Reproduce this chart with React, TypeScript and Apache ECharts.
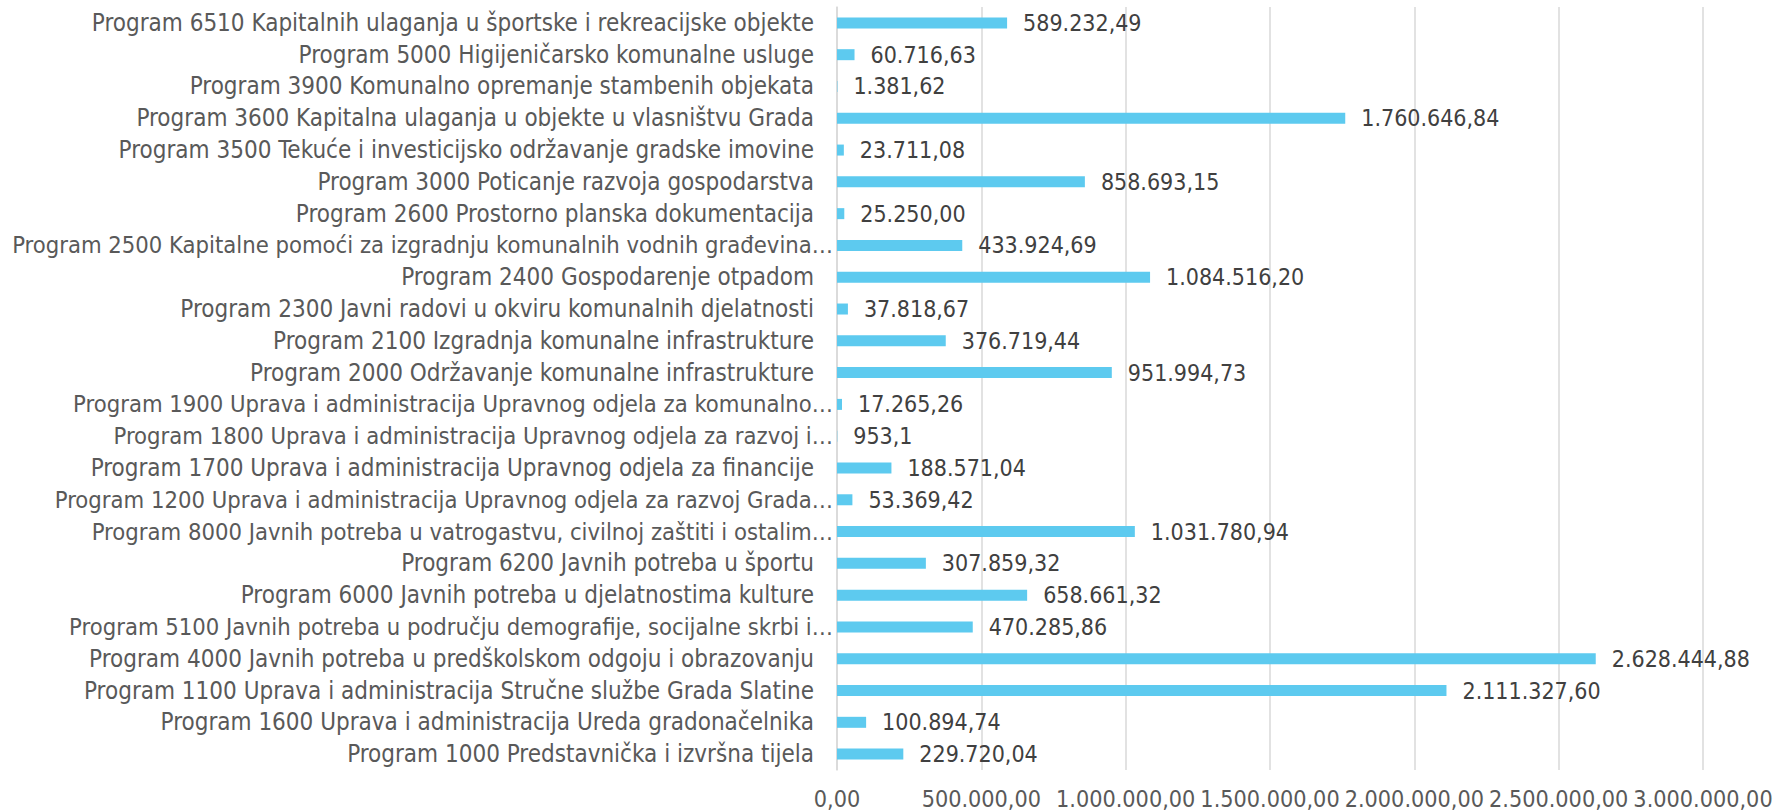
import React, { useEffect, useRef } from "react";
import * as echarts from "echarts";

const categories: string[] = [
  "Program 6510 Kapitalnih ulaganja u športske i rekreacijske objekte",
  "Program 5000 Higijeničarsko komunalne usluge",
  "Program 3900 Komunalno opremanje stambenih objekata",
  "Program 3600 Kapitalna ulaganja u objekte u vlasništvu Grada",
  "Program 3500 Tekuće i investicijsko održavanje gradske imovine",
  "Program 3000 Poticanje razvoja gospodarstva",
  "Program 2600 Prostorno planska dokumentacija",
  "Program 2500 Kapitalne pomoći za izgradnju komunalnih vodnih građevina…",
  "Program 2400 Gospodarenje otpadom",
  "Program 2300 Javni radovi u okviru komunalnih djelatnosti",
  "Program 2100 Izgradnja komunalne infrastrukture",
  "Program 2000 Održavanje komunalne infrastrukture",
  "Program 1900 Uprava i administracija Upravnog odjela za komunalno…",
  "Program 1800 Uprava i administracija Upravnog odjela za razvoj i…",
  "Program 1700 Uprava i administracija Upravnog odjela za financije",
  "Program 1200 Uprava i administracija Upravnog odjela za razvoj Grada…",
  "Program 8000 Javnih potreba u vatrogastvu, civilnoj zaštiti i ostalim…",
  "Program 6200 Javnih potreba u športu",
  "Program 6000 Javnih potreba u djelatnostima kulture",
  "Program 5100 Javnih potreba u području demografije, socijalne skrbi i…",
  "Program 4000 Javnih potreba u predškolskom odgoju i obrazovanju",
  "Program 1100 Uprava i administracija Stručne službe Grada Slatine",
  "Program 1600 Uprava i administracija Ureda gradonačelnika",
  "Program 1000 Predstavnička i izvršna tijela",
];

const values: number[] = [
  589232.49, 60716.63, 1381.62, 1760646.84, 23711.08, 858693.15, 25250.0,
  433924.69, 1084516.2, 37818.67, 376719.44, 951994.73, 17265.26, 953.1,
  188571.04, 53369.42, 1031780.94, 307859.32, 658661.32, 470285.86,
  2628444.88, 2111327.6, 100894.74, 229720.04,
];

const valueLabels: string[] = [
  "589.232,49", "60.716,63", "1.381,62", "1.760.646,84", "23.711,08",
  "858.693,15", "25.250,00", "433.924,69", "1.084.516,20", "37.818,67",
  "376.719,44", "951.994,73", "17.265,26", "953,1", "188.571,04",
  "53.369,42", "1.031.780,94", "307.859,32", "658.661,32", "470.285,86",
  "2.628.444,88", "2.111.327,60", "100.894,74", "229.720,04",
];

const axisMin = 0;
const axisMax = 3000000;
const axisInterval = 500000;

function fmtAxis(v: number): string {
  const s = Math.round(v).toString().replace(/\B(?=(\d{3})+(?!\d))/g, ".");
  return s + ",00";
}

const FONT = "'DejaVu Sans Condensed', 'Liberation Sans Narrow', 'Noto Sans', sans-serif";

export default function App() {
  const ref = useRef<HTMLDivElement>(null);
  useEffect(() => {
    document.body.style.margin = "0";
    if (!ref.current) return;
    const chart = echarts.init(ref.current, undefined, { renderer: "svg" });
    const catStyle = { color: "#595959", fontFamily: FONT, fontSize: 24 };
    chart.setOption({
      animation: false,
      backgroundColor: "#ffffff",
      grid: {
        left: 837,
        right: 75,
        top: 7,
        bottom: 42,
        containLabel: false,
        outerBoundsMode: "none",
      },
      xAxis: {
        type: "value",
        min: axisMin,
        max: axisMax,
        interval: axisInterval,
        axisLine: { show: false },
        axisTick: { show: false },
        splitLine: { show: true, lineStyle: { color: "#d9d9d9", width: 1.5 } },
        axisLabel: {
          formatter: (v: number) => fmtAxis(v),
          color: "#595959",
          fontFamily: FONT,
          fontSize: 23.2,
          margin: 17,
        },
      },
      yAxis: {
        type: "category",
        data: categories,
        inverse: true,
        axisLine: { show: true, lineStyle: { color: "#d9d9d9", width: 1.5 } },
        axisTick: { show: false },
        axisLabel: {
          ...catStyle,
          margin: 4,
          formatter: (v: string) =>
            v.endsWith("…") ? `{e|${v}}` : `{n|${v}}`,
          rich: {
            e: { ...catStyle, fontSize: 23.6 },
            n: { ...catStyle, padding: [0, 19, 0, 0] },
          },
        },
      },
      series: [
        {
          type: "bar",
          data: values,
          barWidth: 11,
          itemStyle: { color: "#5dcaef" },
          label: {
            show: true,
            position: "right",
            distance: 16,
            color: "#404040",
            fontFamily: FONT,
            fontSize: 23,
            formatter: (p: any) => valueLabels[p.dataIndex],
          },
        },
      ],
    });
    return () => chart.dispose();
  }, []);
  return <div ref={ref} style={{ width: 1778, height: 812 }} />;
}
